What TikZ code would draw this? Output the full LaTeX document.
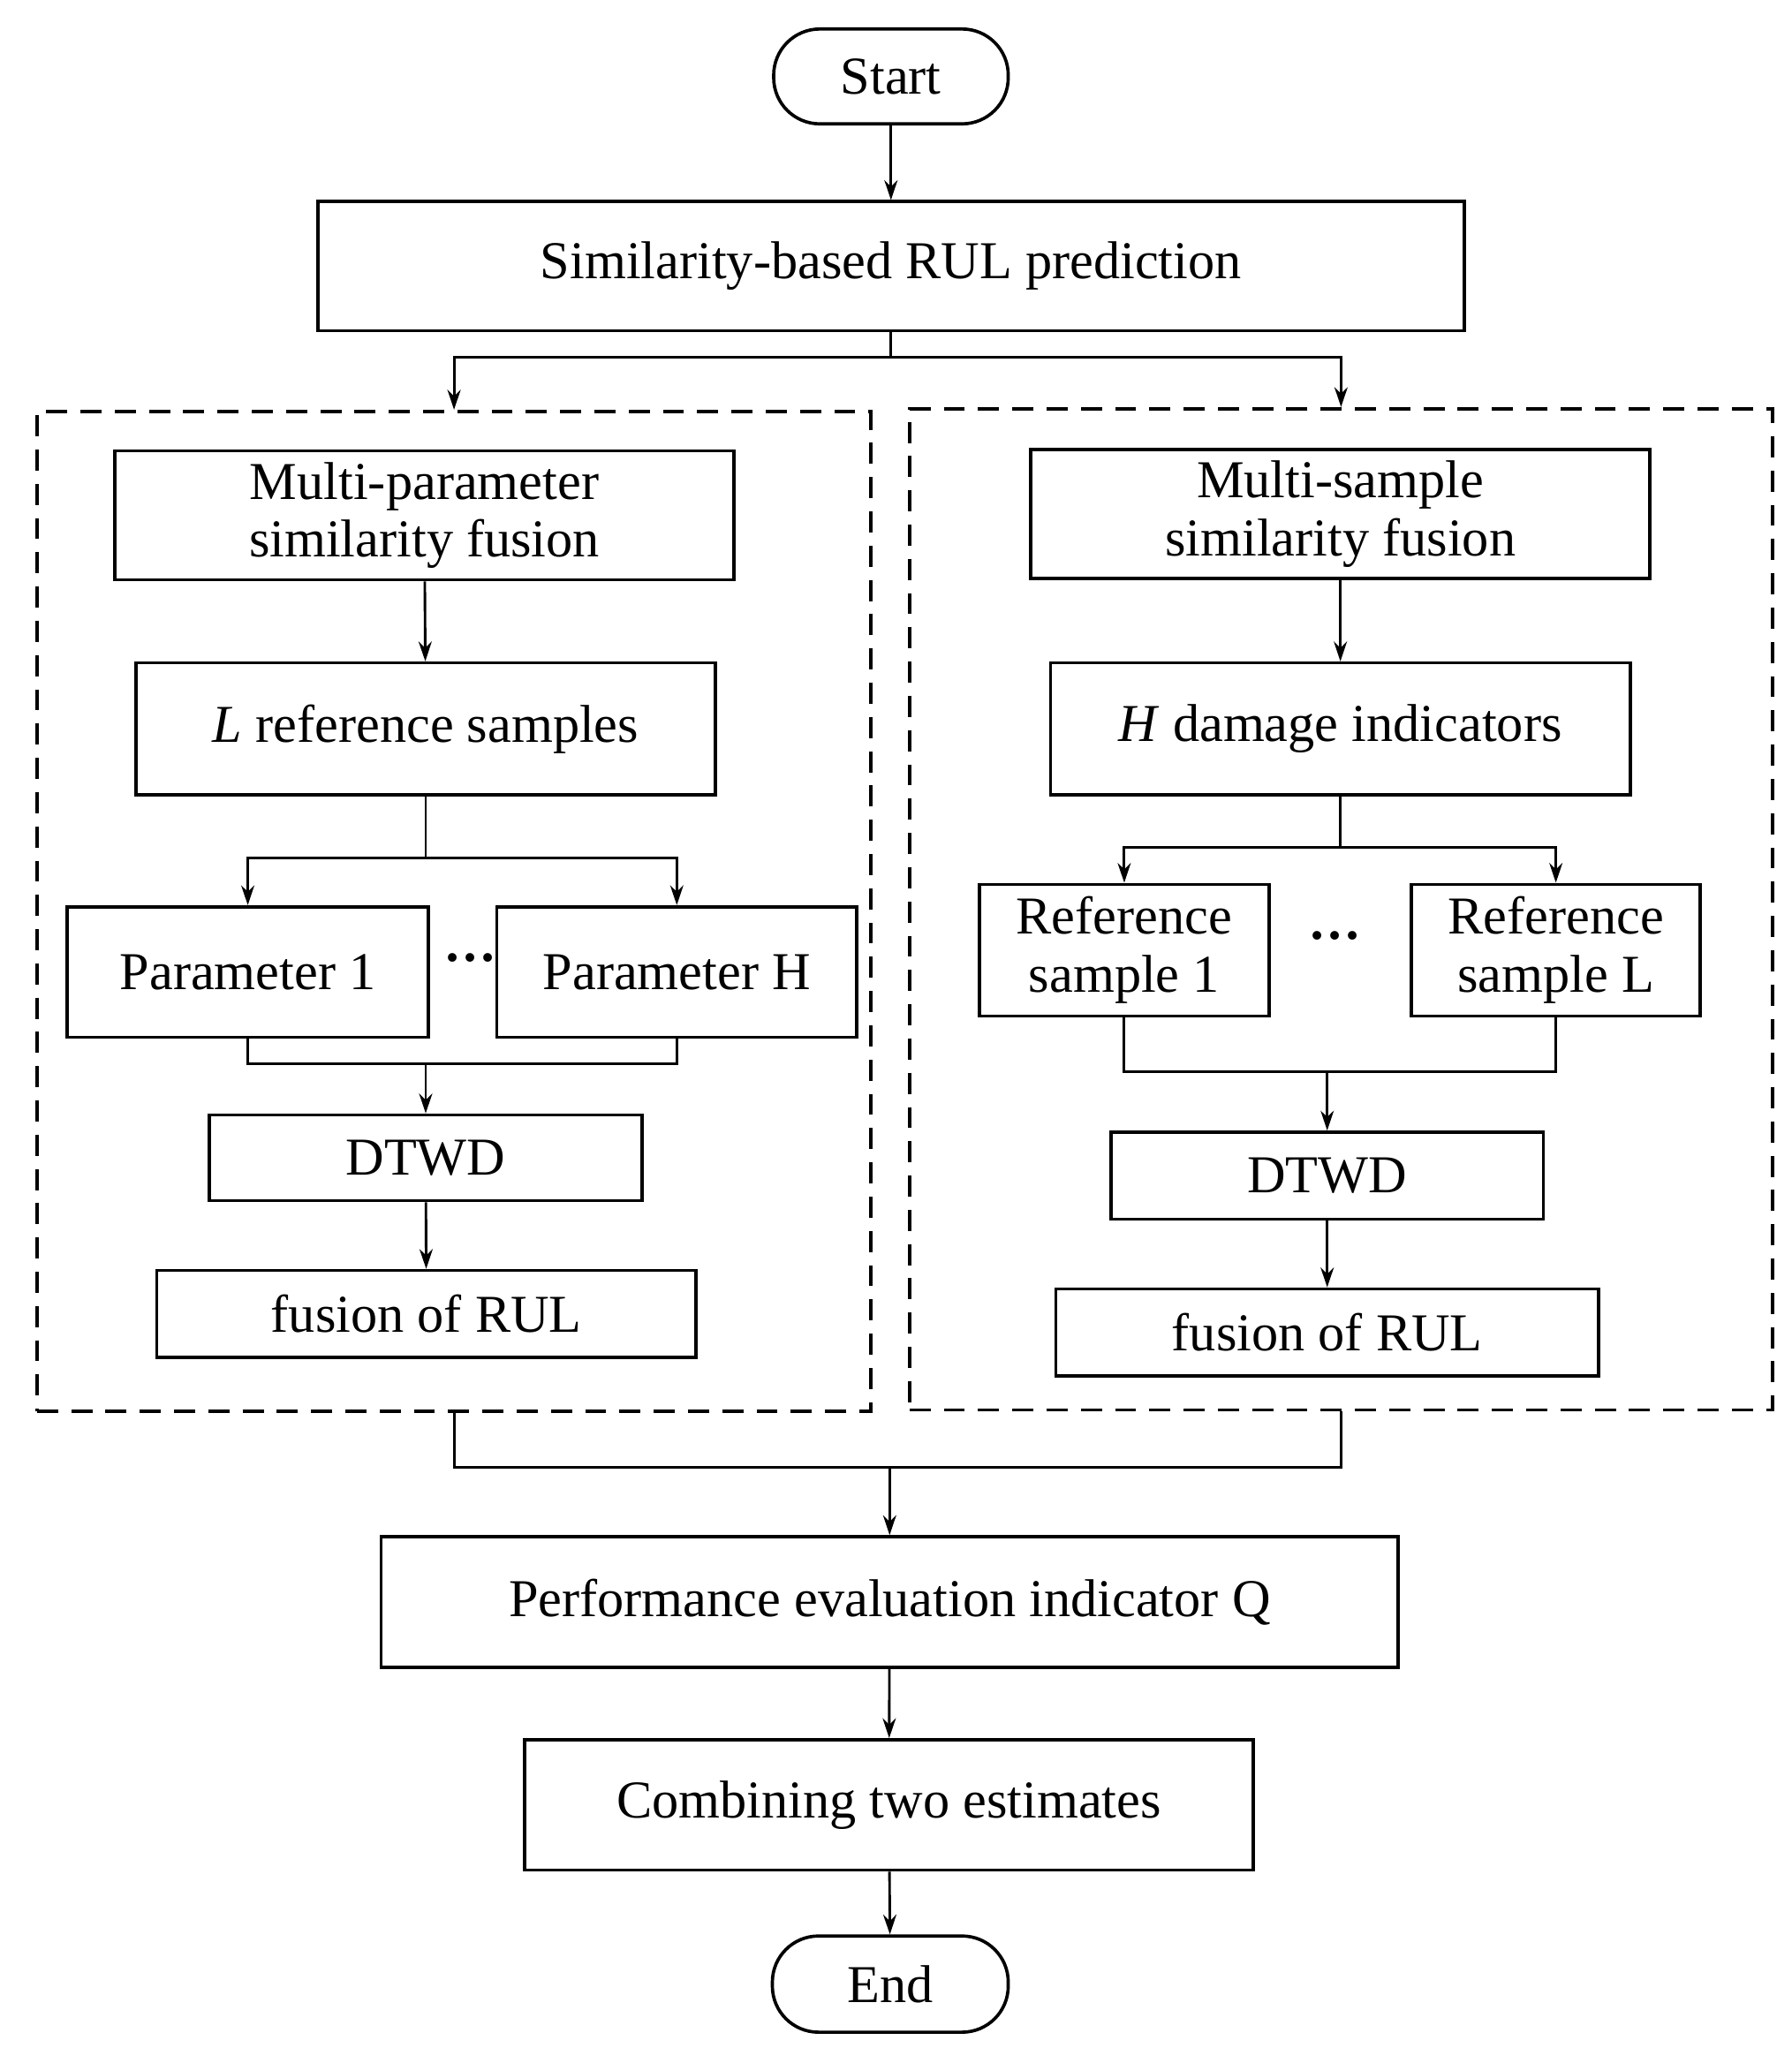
\documentclass[tikz,border=0pt]{standalone}
\usepackage{fontspec}
\setmainfont{Liberation Serif}
\usetikzlibrary{arrows.meta}
\begin{document}
\begin{tikzpicture}[x=0.02cm,y=-0.02cm,
  box/.style={draw,line width=1.4pt,inner sep=0pt,font=\fontsize{23}{25}\selectfont,align=center},
  pill/.style={box,rounded corners=0.7cm},
  dbox/.style={draw,line width=1.4pt,dashed,dash pattern=on 0.32cm off 0.2cm,inner sep=0pt},
  con/.style={line width=1.1pt},
  arr/.style={con,-{Stealth[length=0.3cm,width=0.2cm]}}]
\useasboundingbox (0,0) rectangle (1359,1554);
\node[pill,minimum width=3.56cm,minimum height=1.44cm] (start) at (676,58) {Start};
\node[box,minimum width=17.4cm,minimum height=1.96cm] (b1) at (676,202) {Similarity-based RUL prediction};
\node[dbox,minimum width=12.66cm,minimum height=15.18cm] (dl) at (344.5,691.5) {};
\node[dbox,minimum width=13.1cm,minimum height=15.2cm] (dr) at (1017.5,690) {};
% left
\node[box,minimum width=9.4cm,minimum height=1.96cm] (mp) at (322,391) {Multi-parameter\\similarity fusion};
\node[box,minimum width=8.8cm,minimum height=2.0cm] (lr) at (323,553) {\textit{L} reference samples};
\node[box,minimum width=5.48cm,minimum height=1.98cm] (p1) at (188,737.5) {Parameter 1};
\node[box,minimum width=5.46cm,minimum height=1.98cm] (ph) at (513.5,737.5) {Parameter H};
\node[font=\fontsize{23}{25}\selectfont\bfseries] (dl1) at (357,732) {···};
\node[box,minimum width=6.56cm,minimum height=1.3cm] (dtl) at (323,878.5) {DTWD};
\node[box,minimum width=8.18cm,minimum height=1.32cm] (ful) at (323.5,997) {fusion of RUL};
% right
\node[box,minimum width=9.4cm,minimum height=1.96cm] (ms) at (1017,390) {Multi-sample\\similarity fusion};
\node[box,minimum width=8.8cm,minimum height=2.0cm] (hd) at (1017,553) {\textit{H} damage indicators};
\node[box,minimum width=4.4cm,minimum height=2.0cm] (r1) at (853,721) {Reference\\sample 1};
\node[box,minimum width=4.38cm,minimum height=2.0cm] (rl) at (1180.5,721) {Reference\\sample L};
\node[font=\fontsize{23}{25}\selectfont\bfseries] (dl2) at (1013,715) {···};
\node[box,minimum width=6.56cm,minimum height=1.32cm] (dtr) at (1007,892) {DTWD};
\node[box,minimum width=8.24cm,minimum height=1.32cm] (fur) at (1007,1011) {fusion of RUL};
% bottom
\node[box,minimum width=15.44cm,minimum height=1.98cm] (pe) at (675,1215.5) {Performance evaluation indicator Q};
\node[box,minimum width=11.06cm,minimum height=1.98cm] (cb) at (674.5,1369.5) {Combining two estimates};
\node[pill,minimum width=3.58cm,minimum height=1.46cm] (end) at (675.5,1505.5) {End};
% connectors
\draw[arr] (start) -- (b1);
\draw[con] (b1.south) -- ++(0,19) coordinate (c1);
\draw[arr] (c1) -| (dl.north);
\draw[arr] (c1) -| (dr.north);
\draw[arr] (mp) -- (lr);
\draw[con] (lr.south) -- ++(0,47) coordinate (c2);
\draw[arr] (c2) -| (p1.north);
\draw[arr] (c2) -| (ph.north);
\draw[con] (p1.south) -- ++(0,19) coordinate (c3) -| (ph.south);
\draw[arr] (dtl.north |- c3) -- (dtl.north);
\draw[arr] (dtl) -- (ful);
\draw[arr] (ms) -- (hd);
\draw[con] (hd.south) -- ++(0,39) coordinate (c4);
\draw[arr] (c4) -| (r1.north);
\draw[arr] (c4) -| (rl.north);
\draw[con] (r1.south) -- ++(0,41) coordinate (c5) -| (rl.south);
\draw[arr] (dtr.north |- c5) -- (dtr.north);
\draw[arr] (dtr) -- (fur);
\draw[con] (dl.south) -- ++(0,41) coordinate (c6) -| (dr.south);
\draw[arr] (pe.north |- c6) -- (pe.north);
\draw[arr] (pe) -- (cb);
\draw[arr] (cb) -- (end);
\end{tikzpicture}
\end{document}
